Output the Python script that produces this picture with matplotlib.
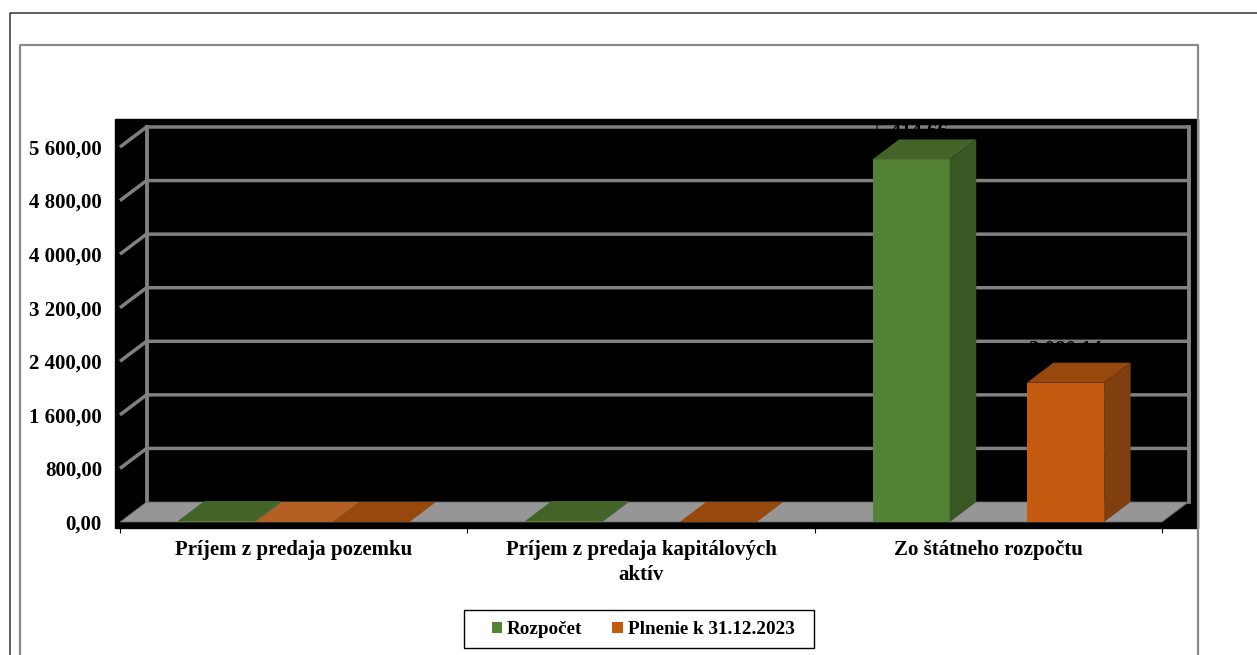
import matplotlib
matplotlib.use("Agg")
import matplotlib.pyplot as plt
from matplotlib.lines import Line2D
from matplotlib.patches import Patch, Polygon, Rectangle

CATEGORIES = ["Príjem z predaja pozemku", "Príjem z predaja kapitálových\naktív", "Zo štátneho rozpočtu"]
SERIES = ["Rozpočet", "Plnenie k 31.12.2023"]
ROZPOCET = [15, 15, 5414.66]
PLNENIE = [0, 0, 2080.14]
BAR_LABELS = [None, None, "5 414,66"], [None, None, "2 080,14"]
YTICKS = [0, 800, 1600, 2400, 3200, 4000, 4800, 5600]
YTICK_LABELS = ["0,00", "800,00", "1 600,00", "2 400,00", "3 200,00", "4 000,00", "4 800,00", "5 600,00"]

W, H = 1257, 655
FONT = "Liberation Serif"
GRID = "#808080"
FLOOR = "#969696"
COLORS = [("#548235", "#436328", "#385723"), ("#C55A11", "#97480D", "#7F3F0E")]

fig = plt.figure(figsize=(W / 100, H / 100), dpi=100, facecolor="white")


def fig_rect(x0, y0, x1, y1):
    # pixel box (y down) to figure fractions
    return [x0 / W, 1 - y1 / H, (x1 - x0) / W, (y1 - y0) / H]


def fig_line(xs, ys, color, lw):
    fig.add_artist(Line2D([x / W for x in xs], [1 - y / H for y in ys], color=color, lw=lw))


# page frames, both run off the picture
fig_line([9.5, 9.5, W], [H, 12.5, 12.5], "#333333", 1.1)
fig_line([20, 20, 1198, 1198], [H, 44.5, 44.5, H], "#8a8a8a", 1.6)

b = fig_rect(115, 119, 1198, 528)
fig.add_artist(Rectangle((b[0], b[1]), b[2], b[3], transform=fig.transFigure, color="black", zorder=-1))

ax = fig.add_axes(fig_rect(120, 147, 1162, 522))
ax.set_xlim(0, 3)
ax.set_ylim(0, 5600)
ax.patch.set_visible(False)
for s in ax.spines.values():
    s.set_visible(False)

# depth of the fake 3D box in data units
dx = 26.5 / (1042 / 3)
dy = 20 / 375 * 5600

# walls
for y in YTICKS[1:]:
    ax.plot([0, dx, 3 + dx], [y, y + dy, y + dy], color=GRID, lw=2.5, clip_on=False, zorder=2, solid_capstyle="butt")
ax.plot([dx, dx], [dy, 5600 + dy], color=GRID, lw=2.8, clip_on=False, zorder=2)
ax.plot([3 + dx, 3 + dx], [dy, 5600 + dy], color=GRID, lw=2.8, clip_on=False, zorder=2)
ax.add_patch(Polygon([(0, 0), (dx, dy), (3 + dx, dy), (3, 0)], fc=FLOOR, ec="#666666", lw=0.6, clip_on=False, zorder=3))

bar_w = 1 / 4.5


def bar3d(x, val, cols, z):
    front, top, side = cols
    ax.add_patch(Rectangle((x, 0), bar_w, val, fc=front, ec="none", clip_on=False, zorder=z))
    ax.add_patch(Polygon([(x, val), (x + dx, val + dy), (x + bar_w + dx, val + dy), (x + bar_w, val)],
                         fc=top, ec="none", clip_on=False, zorder=z))
    ax.add_patch(Polygon([(x + bar_w, 0), (x + bar_w + dx, dy), (x + bar_w + dx, val + dy), (x + bar_w, val)],
                         fc=side, ec="none", clip_on=False, zorder=z))


for i in range(3):
    left = i + 0.75 * bar_w
    bar3d(left, ROZPOCET[i], COLORS[0], 4)
    bar3d(left + 2 * bar_w, PLNENIE[i], COLORS[1], 4)
    for j, val in enumerate([ROZPOCET[i], PLNENIE[i]]):
        txt = BAR_LABELS[j][i]
        if txt:
            # black on black, only shows where it crosses a gridline. top is kept inside the chart
            y = min(val + 43 / 375 * 5600, 5600 + 25 / 375 * 5600)
            ax.text(left + 2 * j * bar_w + bar_w / 2, y, txt, ha="center", va="top", color="black",
                    family=FONT, weight="bold", fontsize=15, zorder=3.5, clip_on=False)

# the pale piece between the two bars of the first category
ax.add_patch(Polygon([(0.75 * bar_w + bar_w, 0), (0.75 * bar_w + bar_w + dx, dy),
                      (0.75 * bar_w + 2 * bar_w + dx, dy), (0.75 * bar_w + 2 * bar_w, 0)],
                     fc="#B46024", ec="none", clip_on=False, zorder=3.8))

ax.set_yticks(YTICKS)
ax.set_yticklabels(YTICK_LABELS, family=FONT, weight="bold", fontsize=15)
ax.tick_params(axis="y", length=3, width=0.8, pad=10, color="black")
ax.set_xticks([0.5, 1.5, 2.5])
ax.set_xticklabels(CATEGORIES, family=FONT, weight="bold", fontsize=15, linespacing=1.32)
ax.tick_params(axis="x", which="major", length=0, pad=13)
ax.set_xticks([0, 1, 2, 3], minor=True)
ax.tick_params(axis="x", which="minor", length=8, width=0.8, color="black")

# legend box is wider than its content, so it is drawn apart from the legend
lb = fig_rect(464, 610, 814, 648)
fig.add_artist(Rectangle((lb[0], lb[1]), lb[2], lb[3], transform=fig.transFigure, fc="white", ec="black", lw=1.0, zorder=3))
handles = [Patch(fc=COLORS[0][0], ec="none"), Patch(fc=COLORS[1][0], ec="none")]
fig.legend(handles, SERIES, ncol=2, loc="center", bbox_to_anchor=(643 / W, 1 - 630 / H),
           prop={"family": FONT, "weight": "bold", "size": 13.8}, frameon=False,
           handlelength=0.55, handleheight=0.55, handletextpad=0.25,
           columnspacing=1.55, borderpad=0, borderaxespad=0)

fig.savefig("out.png", dpi=100)
